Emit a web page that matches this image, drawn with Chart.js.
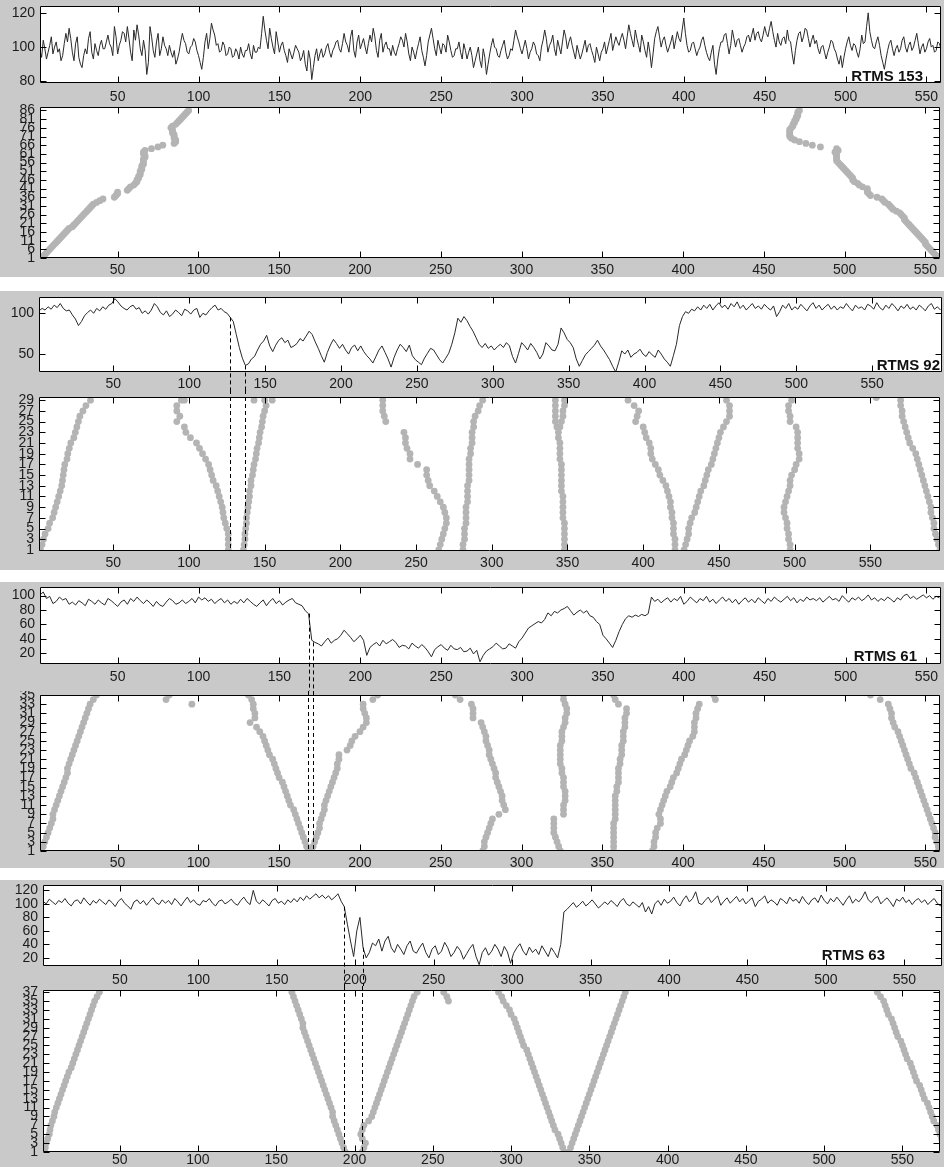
<!DOCTYPE html>
<html>
<head>
<meta charset="utf-8">
<script src="https://cdn.jsdelivr.net/npm/chart.js@4.4.1/dist/chart.umd.min.js"></script>
<style>
  html, body { margin: 0; padding: 0; background: #fff; }
  body { width: 944px; height: 1167px; position: relative; overflow: hidden; }
  .band { position: absolute; left: 0; width: 944px; background: #c9c9c9; }
  canvas { position: absolute; left: 0; }
</style>
</head>
<body>
<script>
// ---- speed series ----

// RTMS 153 speed, one sample per time step from t = 2
const rtms153Start = 2, rtms153Step = 1;
const rtms153 = [
  98,94,104,99,93,97,101,106,96,100,103,97,99,92,95,102,108,103,111,105,97,92,102,106,94,90,88,95,99,96,105,109,97,93,102,98,95,101,104,99,
  99,103,107,102,100,95,112,106,96,101,104,109,108,103,112,105,97,92,110,104,113,107,99,95,104,98,84,91,112,106,98,94,103,108,95,99,106,101,99,95,
  101,97,94,98,90,93,97,103,108,104,102,97,96,100,101,105,103,98,95,91,87,94,103,108,99,105,114,110,107,101,102,97,98,103,101,95,96,100,99,94,
  95,99,97,93,100,96,94,98,98,102,96,93,101,97,97,100,99,108,118,110,104,99,111,105,100,96,109,103,97,101,103,98,95,91,99,96,93,97,101,99,
  97,92,94,98,90,86,98,93,81,88,95,99,92,96,99,94,96,100,102,97,94,98,100,103,104,99,97,102,108,103,101,97,106,110,98,94,103,107,99,102,
  105,100,96,102,107,103,111,106,98,94,104,108,97,101,103,99,99,95,101,97,95,99,102,106,104,100,108,103,96,92,100,97,93,98,102,106,98,94,89,95,
  103,107,111,105,99,95,104,100,96,102,101,97,107,103,98,94,95,99,99,103,97,93,102,98,93,97,100,95,88,92,96,100,92,88,99,94,84,90,96,101,
  105,100,99,95,94,98,101,104,97,93,95,99,98,104,110,106,103,99,96,100,104,99,93,97,99,103,101,96,95,92,100,104,110,105,97,101,103,107,99,95,
  104,100,96,103,110,106,99,103,106,101,97,93,101,97,93,96,100,104,97,101,102,98,95,91,100,96,92,97,99,103,96,100,104,108,98,102,106,103,101,105,
  108,104,99,106,113,108,104,100,110,105,101,97,107,103,98,94,103,97,88,96,105,109,112,106,100,104,106,101,97,100,103,107,99,104,109,105,103,110,117,108,
  101,97,98,102,103,99,95,98,100,104,106,101,97,94,92,97,101,90,84,93,99,103,103,107,108,102,96,101,110,105,100,104,105,101,97,100,102,106,107,103,
  107,111,104,108,109,105,103,107,112,108,106,111,115,109,104,100,108,103,101,105,106,102,110,104,103,96,90,98,104,108,109,103,106,111,110,105,100,104,107,102,
  104,99,96,100,101,97,93,97,100,104,103,99,97,93,90,95,88,94,99,103,106,101,98,102,101,97,94,99,107,102,103,112,120,109,104,100,99,103,106,101,
  95,91,87,93,98,102,104,99,95,99,101,97,99,104,106,100,97,101,103,98,100,104,108,102,96,100,102,97,99,103,105,100,101,97,98,103,102,99
];

// RTMS 92 speed, every 2 time steps from t = 1
const rtms92Start = 1, rtms92Step = 2;
const rtms92 = [
  103,106,104,108,105,110,107,112,106,103,104,98,93,85,90,97,101,104,100,106,
  103,108,105,110,112,118,114,109,106,104,108,110,105,107,100,103,99,104,112,108,
  101,98,103,96,99,104,101,97,105,103,99,104,106,95,100,98,103,107,110,104,
  106,102,100,95,90,74,58,45,36,38,44,47,55,62,66,73,60,53,61,67,
  70,64,67,58,60,63,69,66,72,78,74,65,57,48,40,52,61,68,63,57,
  62,55,50,58,61,54,60,53,48,44,39,47,55,60,52,44,34,46,55,62,
  58,53,61,48,43,40,37,45,51,57,55,49,43,39,45,51,62,76,94,89,
  96,91,84,78,70,62,58,63,57,60,55,59,62,58,64,60,47,39,51,64,
  60,55,63,58,52,44,50,64,60,55,54,62,82,76,68,64,58,44,35,42,
  49,53,57,61,67,60,55,49,43,35,28,40,54,50,55,46,50,52,56,50,
  47,53,49,46,55,50,44,40,35,48,62,85,96,102,100,105,103,108,104,110,
  106,111,104,109,113,107,110,105,112,108,114,106,110,104,108,112,106,109,105,111,
  107,104,109,96,102,110,106,112,104,108,105,111,107,103,109,113,106,110,104,108,
  111,105,109,104,108,106,112,107,103,110,106,108,104,111,109,105,113,107,104,110,
  106,112,108,103,109,106,111,105,108,104,110,107,103,109,112,105,108,104
];

// RTMS 61 speed, every 2 time steps from t = 2
const rtms61Start = 2, rtms61Step = 2;
const rtms61 = [
  101,105,96,99,89,92,98,94,96,88,91,87,93,90,86,95,92,88,94,90,
  87,96,93,89,85,91,94,88,96,92,98,93,89,94,90,85,92,87,85,91,
  96,93,88,90,94,89,92,96,90,98,94,97,92,95,89,93,96,90,94,88,
  92,89,95,90,96,92,88,85,90,94,86,92,96,89,93,87,91,94,96,90,
  88,86,79,75,38,35,33,30,36,41,34,38,40,45,52,47,42,36,40,45,
  38,17,28,32,35,30,38,33,36,39,35,28,31,30,26,34,30,27,32,28,
  22,15,25,29,32,27,24,31,26,25,28,22,23,27,19,24,8,17,23,26,
  29,34,30,26,27,33,30,27,36,41,48,55,58,61,64,62,67,76,72,78,
  76,80,82,85,79,73,77,80,76,79,72,70,64,60,45,40,34,28,38,50,
  60,68,72,70,73,71,74,72,75,98,92,95,90,94,97,91,96,93,99,88,
  92,98,94,90,96,93,99,91,95,89,94,98,92,96,90,95,88,93,97,91,
  95,90,97,93,89,96,92,98,94,91,95,99,93,97,90,95,92,98,94,96,
  93,97,91,95,99,94,96,92,100,95,91,97,94,98,93,96,101,94,97,92,
  96,93,98,95,91,97,94,100,102,96,99,95,98,101,97,100,95,99,97
];

// RTMS 63 speed, every 2 time steps from t = 1
const rtms63Start = 1, rtms63Step = 2;
const rtms63 = [
  104,100,107,103,99,105,102,108,101,97,104,106,100,109,103,98,105,101,107,103,
  99,106,102,96,104,108,101,97,92,103,106,100,105,98,104,109,102,99,106,101,
  105,99,108,103,97,104,110,102,106,100,98,105,103,108,101,97,104,106,100,103,
  107,101,98,105,110,103,99,120,104,100,106,102,97,105,108,101,104,99,106,102,
  108,103,110,105,112,107,111,115,109,113,108,112,106,110,115,104,96,70,45,22,
  60,80,35,20,28,42,38,48,30,45,52,35,28,40,33,25,38,45,30,27,
  35,42,28,20,33,38,25,30,43,35,22,28,37,31,18,26,34,40,22,10,
  28,35,24,30,40,33,22,37,29,12,27,35,41,30,24,36,28,33,25,38,
  30,22,35,28,20,40,88,92,97,102,95,99,104,97,101,106,100,94,98,103,
  99,105,101,96,104,108,100,97,103,99,95,102,88,96,85,100,105,98,107,101,
  104,110,102,97,106,112,103,108,118,101,99,105,110,102,107,112,98,104,109,101,
  106,111,103,108,100,105,109,96,104,107,112,101,106,103,98,108,105,100,110,104,
  107,101,111,104,99,106,109,102,113,105,100,108,103,110,104,98,106,112,101,107,
  103,109,118,106,102,108,111,100,105,109,103,96,107,104,110,102,106,99,105,108,
  102,106,99,104,108,101,97,103,100,98
];

// ---- vehicle tracks: position for lane index 1, 2, 3, ... (null = no detection) ----
const tracks153 = [
  [2,4,5,6,7,8,9,10,11,12, 13,14,15,16,17,18,19,20,22,23, 24,25,26,27,28,29,30,31,32,33,
   34,35,37,39,41,48,49,50,50,56, 57,58,60,61,62,62,63,63,64,64, 64,65,65,65,66,66,66,66,67,67,
   66,66,67,71,75,78,85,86,86,85, 85,85,84,84,84,83,84,86,87,88, 89,90,91,92,93,94],
  [558,557,556,555,554,553,552,551,550,550, 549,548,547,546,545,544,543,542,541,540,
   539,538,537,537,536,535,534,532,530,529, 528,527,525,524,523,520,516,515,514,514,
   514,511,509,508,506,505,505,504,503,502, 501,500,499,498,497,496,495,495,495,495,
   495,494,496,495,485,480,476,472,469,467, 466,466,466,466,466,467,468,468,469,469,
   470,470,471,471,471,472]
];
const extra153 = [];

const tracks92 = [
  [2,3,4,5,7,8,10,11,12,13,14,15,16,16.5,17,17.5,18,19.5,20,21,22,24,25,26,27,28,30,32,35],
  [126,126,126,126,125,124,123,122.5,122,121,120,119,118,116,115,114,113,111,109,107,105,101,98,97,92,94,92,92,95],
  [136,136.5,137,137,137.5,138,138,138.5,139,139.5,140,140,141,141,142,142.5,143,144,144.5,145,146,146.5,147,148,148.5,149,150,151,150],
  [265,266,267,268,269,270,270,269,268,266,264,262,259,258,257,257,251,246,246,244,243,243,242,null,230,229,228,228,228],
  [281,281,282,282,282,283,283,283,283,284,284,284,284,285,285,285,285,285,286,286,287,287,287,288,288,289,291,292,294],
  [348,348,348,348,348,348,347,347,347,347,347,346,346,346,346,346,346,345,345,345,345,344,344,343,342,342,342,342,342],
  [421,421,421,420,420,420,419,419,418,418,417,416,415,413,411,410,408,406,405,405,404,402,401,400,395,396,397,394,390],
  [427,428,429,430,430,431,432,434,435,436,437,438,440,441,442,443,445,446,447,448,449,450,451,453,455,457,457,457,455],
  [497,497,496,496,495,495,494,493,493,494,495,496,497,497,498,500,501,503,503,502,502,502,502,501,497,497,496,496,498],
  [596,595,594,593,592,592,591,590,590,589,588,587,586,585,584,583,582,581,580,578,576,575,574,573,572,571,571,570,570]
];
const extra92 = [[345,24],[346,25],[347,26],[347,27],[348,28],[348,29],[97,29],[143,29],[155,29],[554,29.5]];

const tracks61 = [
  [3,4,5,6,7,8,9,10,10,11,12,13,14,15,16,17,18,19,19,20,21,22,23,24,25,26,27,28,29,30,31,32,33,35,37],
  [168,167,166,165,164,163,162,161,160,159,157,156,155,154,153,152,150,149,148,147,146,144,143,142,141,140,138,136,132,135,135,134,134,133,131],
  [170,171,172,173,174,175,175,176,177,178,178,179,180,181,182,183,184,185,186,186,187,187,192,194,195,197,200,202,204,204,203,202,202,208,211],
  [276,277,277,278,279,280,281,282,286,290,289,288,288,287,286,285,284,284,283,282,281,280,280,279,278,278,277,276,275,270,270,270,269,262,259],
  [324,323,322,321,320,320,320,320,326,326,326,327,327,327,326,326,326,325,325,324,324,324,324,324,325,325,325,326,327,327,328,328,327,326,326],
  [357,357,357,357,357,357,357,358,358,358,358,358,358,359,359,360,360,360,360,361,361,362,362,362,363,363,363,364,364,364,365,365,360,358,357],
  [381,382,382,383,383,384,386,386,385,386,387,388,389,390,392,393,394,396,397,398,399,401,402,403,404,406,407,407,407,408,408,409,410,420,419],
  [558,558,557,556,556,555,554,553,552,551,550,549,548,547,546,545,544,543,541,540,539,538,537,536,535,534,533,531,530,529,529,528,527,522,516]
];
const extra61 = [[82,35],[80,34],[96,33]];

const tracks63 = [
  [2,2.5,3,4,5,5.5,6,7,8,8.5,9.5,10.5,11.5,12.5,13.5,14.5,15.5,16.5,17.5,19,20,21,22,23,24,25,26,27,28,29,30,31,32,33,34,35.5,37],
  [194,193,192,191,190,189,188,187,186,186,185,184,183,182,181,180,179,178,177,176,175,174,173,172,171,170,169,168,167,167,166,165,164,163,162,161,160],
  [205,206,207,205,204,205,206,209,211,212,213,214,215,216,217,218,219,220,221,222,223,224,225,226,227,228,229,230,231,232,233,234,235,236,237,238,240],
  [334,333,332,331,330,328,327,326,325,324,323,322,321,320,319,318,317,316,315,314,313,312,311,310,308,307,306,305,304,303,302,300,299,297,295,294,292],
  [337,338,339,340,341,342,343,344,345,346,347,348,349,350,351,352,353,354,355,356,357,358,359,360,361,362,363,364,365,366,367,368,369,370,371,372,373],
  [579,578,577,575,574,573,572,570,569,568,567,566,564,563,562,561,559,558,557,556,555,553,552,551,550,549,547,546,545,544,543,541,540,539,538,536,534]
];
const extra63 = [[257,37],[259,36],[260,35]];

// ---- tick labels ----
const timeTicks = [50,100,150,200,250,300,350,400,450,500,550];
const speedTicks153 = [80,100,120];
const speedTicks92 = [50,100];
const speedTicks61 = [20,40,60,80,100];
const speedTicks63 = [20,40,60,80,100,120];
const laneTicks153 = [1,6,11,16,21,26,31,36,41,46,51,56,61,66,71,76,81,86];
const laneTicks92 = [1,3,5,7,9,11,13,15,17,19,21,23,25,27,29];
const laneTicks61 = [1,3,5,7,9,11,13,15,17,19,21,23,25,27,29,31,33,35];
const laneTicks63 = [1,3,5,7,9,11,13,15,17,19,21,23,25,27,29,31,33,35,37];

// dashed markers (time values) linking the speed drop to the tracks
const cuts92 = [127, 137];
const cuts61 = [168, 171];
const cuts63 = [193, 205];

// ---- helpers ----
const FONT = '"Liberation Sans", Arial, sans-serif';
const toPoints = (vals, start, step) => vals.map((v, i) => ({ x: start + i * step, y: v }));
const valueAt = (vals, start, step, t) => vals[Math.max(0, Math.min(vals.length - 1, Math.round((t - start) / step)))];
function trackPoints(tracks, extra) {
  const pts = [];
  tracks.forEach(tr => tr.forEach((x, i) => { if (x != null) pts.push({ x, y: i + 1 }); }));
  extra.forEach(([x, y]) => pts.push({ x, y }));
  return pts;
}

// white plot area, box with inward ticks, dashed markers and station tag
const framePlugin = {
  id: 'frame',
  beforeDraw(chart) {
    const { ctx, chartArea: a } = chart;
    ctx.save();
    ctx.fillStyle = '#ffffff';
    ctx.fillRect(a.left, a.top, a.right - a.left, a.bottom - a.top);
    ctx.restore();
  },
  afterDraw(chart, args, o) {
    const { ctx, chartArea: a, scales: { x, y } } = chart;
    ctx.save();
    ctx.strokeStyle = '#000';
    ctx.lineWidth = 1;
    if (o.cuts) {
      ctx.setLineDash([4, 3]);
      o.cuts.forEach(c => {
        const px = Math.round(x.getPixelForValue(c.x)) + 0.5;
        const y0 = c.from != null ? y.getPixelForValue(c.from) : 0;
        const y1 = c.from != null ? chart.height : a.bottom;
        ctx.beginPath(); ctx.moveTo(px, y0); ctx.lineTo(px, y1); ctx.stroke();
      });
      ctx.setLineDash([]);
    }
    const L = Math.round(a.left) + 0.5, R = Math.round(a.right) - 0.5;
    const T = Math.round(a.top) + 0.5, B = Math.round(a.bottom) - 0.5;
    ctx.beginPath();
    ctx.rect(L, T, R - L, B - T);
    x.ticks.forEach(t => {
      const px = Math.round(x.getPixelForValue(t.value)) + 0.5;
      ctx.moveTo(px, B); ctx.lineTo(px, B - 6);
      ctx.moveTo(px, T); ctx.lineTo(px, T + 6);
    });
    y.ticks.forEach(t => {
      const py = Math.round(y.getPixelForValue(t.value)) + 0.5;
      ctx.moveTo(L, py); ctx.lineTo(L + 6, py);
      ctx.moveTo(R, py); ctx.lineTo(R - 6, py);
    });
    ctx.stroke();
    if (o.tag) {
      ctx.font = 'bold 15px ' + FONT;
      ctx.fillStyle = '#111';
      ctx.textAlign = 'right';
      ctx.textBaseline = 'alphabetic';
      ctx.fillText(o.tag.text, o.tag.x, o.tag.y);
    }
    ctx.restore();
  }
};

function xAxis(p) {
  return {
    type: 'linear', min: p.xMin, max: p.xMax,
    grid: { display: false, drawTicks: false }, border: { display: false },
    ticks: { color: '#1c1c1c', font: { family: FONT, size: 14 }, padding: p.labelY - p.plotBottom - 8.4,
             autoSkip: false, maxRotation: 0, minRotation: 0, callback: v => String(v) },
    afterBuildTicks: s => { s.ticks = timeTicks.map(v => ({ value: v })); },
    afterFit: s => { s.height = p.top + p.height - p.plotBottom; s.paddingLeft = 0; s.paddingRight = 0; }
  };
}
function yAxis(p, tickVals) {
  return {
    type: 'linear', min: p.yMin, max: p.yMax,
    grid: { display: false, drawTicks: false }, border: { display: false },
    ticks: { color: '#1c1c1c', font: { family: FONT, size: 14 }, padding: 5, autoSkip: false, callback: v => String(v) },
    afterBuildTicks: s => { s.ticks = tickVals.map(v => ({ value: v })); },
    afterFit: s => { s.width = p.left; s.paddingTop = 0; s.paddingBottom = 0; }
  };
}

function makeCanvas(p) {
  const c = document.createElement('canvas');
  c.width = 944; c.height = p.height;
  c.style.top = p.top + 'px';
  document.body.appendChild(c);
  return c;
}

function drawGroup(g) {
  const band = document.createElement('div');
  band.className = 'band';
  band.style.top = g.band[0] + 'px';
  band.style.height = (g.band[1] - g.band[0]) + 'px';
  document.body.appendChild(band);

  const lp = g.line, sp = g.scat;
  new Chart(makeCanvas(lp), {
    type: 'scatter',
    data: { datasets: [{
      data: toPoints(g.speed, g.start, g.step), showLine: true, borderColor: '#2a2a2a', borderWidth: 1,
      pointRadius: 0, tension: 0, fill: false, clip: 0
    }] },
    options: {
      responsive: false, animation: false, devicePixelRatio: 1, events: [],
      layout: { padding: { left: 0, right: 944 - lp.right, top: lp.plotTop - lp.top, bottom: 0 } },
      plugins: {
        legend: { display: false }, tooltip: { enabled: false },
        frame: {
          cuts: g.cuts.map(t => ({ x: t, from: valueAt(g.speed, g.start, g.step, t) })),
          tag: { text: g.tag.text, x: g.tag.right, y: g.tag.base - lp.top }
        }
      },
      scales: { x: xAxis(lp), y: yAxis(lp, g.speedTicks) }
    },
    plugins: [framePlugin]
  });

  new Chart(makeCanvas(sp), {
    type: 'scatter',
    data: { datasets: [{
      data: trackPoints(g.tracks, g.extra), backgroundColor: '#b4b4b4', borderWidth: 0,
      pointRadius: g.dot, clip: 0
    }] },
    options: {
      responsive: false, animation: false, devicePixelRatio: 1, events: [],
      layout: { padding: { left: 0, right: 944 - sp.right, top: sp.plotTop - sp.top, bottom: 0 } },
      plugins: {
        legend: { display: false }, tooltip: { enabled: false },
        frame: { cuts: g.cuts.map(t => ({ x: t, from: null })) }
      },
      scales: { x: xAxis(sp), y: yAxis(sp, g.laneTicks) }
    },
    plugins: [framePlugin]
  });
}

const groups = [
  { band: [0, 277], speed: rtms153, start: rtms153Start, step: rtms153Step, tracks: tracks153, extra: extra153,
    speedTicks: speedTicks153, laneTicks: laneTicks153, cuts: [], dot: 3.4,
    tag: { text: 'RTMS 153', right: 923, base: 81 },
    line: { top: 0, height: 103, left: 40, right: 941, plotTop: 6, plotBottom: 83, xMin: 2, xMax: 559, yMin: 79, yMax: 124, labelY: 97 },
    scat: { top: 103, height: 174, left: 40, right: 941, plotTop: 106, plotBottom: 258, xMin: 2, xMax: 559, yMin: 1, yMax: 88, labelY: 270 } },
  { band: [291, 570], speed: rtms92, start: rtms92Start, step: rtms92Step, tracks: tracks92, extra: extra92,
    speedTicks: speedTicks92, laneTicks: laneTicks92, cuts: cuts92, dot: 3.4,
    tag: { text: 'RTMS 92', right: 940, base: 370 },
    line: { top: 291, height: 99, left: 39, right: 942, plotTop: 297, plotBottom: 372, xMin: 1, xMax: 596, yMin: 28, yMax: 120, labelY: 384 },
    scat: { top: 390, height: 180, left: 39, right: 942, plotTop: 397, plotBottom: 551, xMin: 1, xMax: 596, yMin: 0.8, yMax: 29.6, labelY: 563 } },
  { band: [582, 868], speed: rtms61, start: rtms61Start, step: rtms61Step, tracks: tracks61, extra: extra61,
    speedTicks: speedTicks61, laneTicks: laneTicks61, cuts: cuts61, dot: 3.4,
    tag: { text: 'RTMS 61', right: 917, base: 661 },
    line: { top: 582, height: 109, left: 40, right: 941, plotTop: 587, plotBottom: 664, xMin: 2, xMax: 559, yMin: 5, yMax: 112, labelY: 677 },
    scat: { top: 691, height: 177, left: 40, right: 941, plotTop: 694, plotBottom: 851, xMin: 2, xMax: 559, yMin: 1, yMax: 35, labelY: 863 } },
  { band: [880, 1167], speed: rtms63, start: rtms63Start, step: rtms63Step, tracks: tracks63, extra: extra63,
    speedTicks: speedTicks63, laneTicks: laneTicks63, cuts: cuts63, dot: 3.4,
    tag: { text: 'RTMS 63', right: 885, base: 960 },
    line: { top: 880, height: 106, left: 43, right: 942, plotTop: 885, plotBottom: 966, xMin: 1, xMax: 574, yMin: 8, yMax: 128, labelY: 980 },
    scat: { top: 986, height: 181, left: 43, right: 942, plotTop: 990, plotBottom: 1152, xMin: 1, xMax: 574, yMin: 1, yMax: 37.5, labelY: 1160 } }
];

groups.forEach(drawGroup);
</script>
</body>
</html>
